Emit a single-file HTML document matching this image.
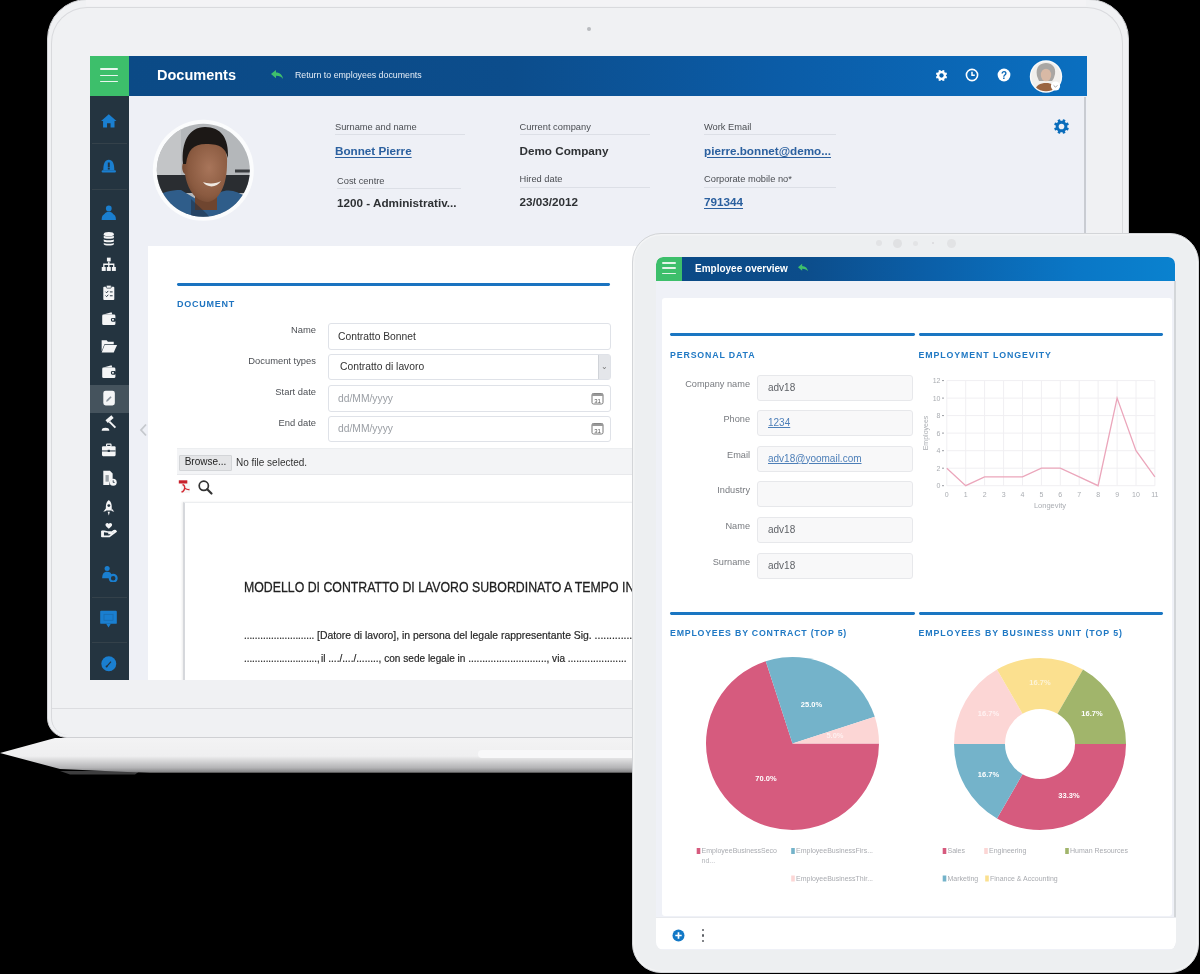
<!DOCTYPE html><html><head><meta charset="utf-8"><style>
*{margin:0;padding:0;box-sizing:border-box}
html,body{width:1200px;height:974px;overflow:hidden;background:#000;font-family:"Liberation Sans",sans-serif}
.a{position:absolute}
.t{white-space:nowrap}
</style></head><body><div class="a" id="wrap" style="left:0;top:0;width:1200px;height:974px;overflow:hidden;background:#000;filter:blur(0.45px)"><svg class="a" style="left:0;top:735px" width="1200" height="42" viewBox="0 0 1200 42">
<defs><linearGradient id="bg1" x1="0" y1="0" x2="0" y2="1">
<stop offset="0" stop-color="#f3f3f4"/><stop offset="0.52" stop-color="#efeff0"/><stop offset="0.58" stop-color="#e3e3e4"/><stop offset="0.85" stop-color="#b4b4b6"/><stop offset="0.96" stop-color="#8c8c8e"/><stop offset="1" stop-color="#404040"/></linearGradient></defs>
<path d="M55 3 L1150 3 L1150 38 L150 38 L60 34 L0 18 Z" fill="url(#bg1)"/><rect x="478" y="15" width="170" height="8" rx="4" fill="#f8f8f9"/><path d="M60 36 L140 36 L135 39.5 L70 39.5 Z" fill="#8a8a8c" opacity="0.45"/>
</svg>
<div class="a" style="left:47px;top:-1px;width:1082px;height:739px;border-radius:40px 40px 20px 20px;background:#f0f1f3;border:1.2px solid #cfd0d3"></div>
<div class="a" style="left:50.5px;top:6.5px;width:1072px;height:728px;border-radius:36px 36px 17px 17px;border:1px solid #d9dadd;border-bottom:none"></div>
<div class="a" style="left:86px;top:0px;width:1000px;height:6px;background:#f3f3f5"></div>
<div class="a" style="left:52px;top:708px;width:1072px;height:1px;background:#dcdde0"></div>
<div class="a" style="left:587px;top:27px;width:4px;height:4px;border-radius:50%;background:#b9bbbf"></div>
<div class="a" style="left:90px;top:56px;width:997px;height:624px;overflow:hidden"><div class="a" style="left:0.00px;top:0.00px;width:997.00px;height:624.00px;background:#eef0f6"></div><div class="a" style="left:39.00px;top:0.00px;width:958.00px;height:40.00px;background:linear-gradient(90deg,#0b4a86 0%,#0c4d8c 40%,#0b5ca7 68%,#0a6fc0 100%)"></div><div class="a" style="left:0.00px;top:0.00px;width:39.00px;height:40.00px;background:#3dbf6b"></div><div class="a" style="left:10.00px;top:12.20px;width:18.00px;height:1.70px;background:#e9f6ee;border-radius:1px"></div><div class="a" style="left:10.00px;top:18.50px;width:18.00px;height:1.70px;background:#e9f6ee;border-radius:1px"></div><div class="a" style="left:10.00px;top:24.70px;width:18.00px;height:1.70px;background:#e9f6ee;border-radius:1px"></div><div class="a t" style="left:67.00px;top:11.67px;font-size:14.5px;line-height:14.5px;font-weight:bold;color:#ffffff;">Documents</div><svg class="a" style="left:180px;top:13px" width="14" height="12" viewBox="0 0 14 12"><path d="M1 5 L6 1 L6 3.5 C10 3.5 12.5 6 13 10 C11.5 7.8 9.5 6.8 6 6.8 L6 9.3 Z" fill="#3fbf6c"/></svg><div class="a t" style="left:205.00px;top:15.02px;font-size:8.8px;line-height:8.8px;font-weight:normal;color:#e6eef7;">Return to employees documents</div><svg class="a" style="left:844.50px;top:12.50px" width="13" height="13" viewBox="0 0 20 20"><rect x="8.4" y="1.2" width="3.2" height="4" rx="0.5" fill="#ffffff" transform="rotate(22.5 10 10)"/><rect x="8.4" y="1.2" width="3.2" height="4" rx="0.5" fill="#ffffff" transform="rotate(67.5 10 10)"/><rect x="8.4" y="1.2" width="3.2" height="4" rx="0.5" fill="#ffffff" transform="rotate(112.5 10 10)"/><rect x="8.4" y="1.2" width="3.2" height="4" rx="0.5" fill="#ffffff" transform="rotate(157.5 10 10)"/><rect x="8.4" y="1.2" width="3.2" height="4" rx="0.5" fill="#ffffff" transform="rotate(202.5 10 10)"/><rect x="8.4" y="1.2" width="3.2" height="4" rx="0.5" fill="#ffffff" transform="rotate(247.5 10 10)"/><rect x="8.4" y="1.2" width="3.2" height="4" rx="0.5" fill="#ffffff" transform="rotate(292.5 10 10)"/><rect x="8.4" y="1.2" width="3.2" height="4" rx="0.5" fill="#ffffff" transform="rotate(337.5 10 10)"/><circle cx="10" cy="10" r="6.8" fill="#ffffff"/><circle cx="10" cy="10" r="3.3" fill="#0b63ad"/></svg><svg class="a" style="left:875px;top:12px" width="14" height="14" viewBox="0 0 14 14"><circle cx="7" cy="7" r="5.6" fill="none" stroke="#fff" stroke-width="1.6"/><path d="M7 3.8 V7.3 H9.8" fill="none" stroke="#fff" stroke-width="1.5"/></svg><svg class="a" style="left:907px;top:12px" width="14" height="14" viewBox="0 0 14 14"><circle cx="7" cy="7" r="6.4" fill="#fff"/><text x="7" y="10.6" font-size="10" font-weight="bold" text-anchor="middle" fill="#0b68b6" font-family="Liberation Sans">?</text></svg><svg class="a" style="left:939px;top:4px" width="34" height="34" viewBox="0 0 34 34">
<defs><clipPath id="avc"><circle cx="17" cy="16.5" r="14.8"/></clipPath></defs>
<circle cx="17" cy="16.5" r="16.2" fill="#fafafa"/>
<g clip-path="url(#avc)"><rect x="0" y="0" width="34" height="34" fill="#f1efec"/>
<path d="M8 16 C6 6 12 3 17 3 C23 3 27 7 26 14 C25 18 24 20 23 21 L10 21 Z" fill="#a9a6a3"/>
<ellipse cx="17" cy="15" rx="5.2" ry="6.3" fill="#d8b9a5"/>
<path d="M5 34 C6 25 11 23 17 23 C23 23 27 25 28 34 Z" fill="#9a6440"/></g>
<circle cx="26.5" cy="26" r="4.6" fill="#fff"/><path d="M24.6 25.3 L26.5 27.2 L28.4 25.3" fill="none" stroke="#999" stroke-width="0.9"/>
</svg><div class="a" style="left:0.00px;top:40.00px;width:39.00px;height:584.00px;background:#243440"></div><div class="a" style="left:2.00px;top:87.00px;width:35.00px;height:1.00px;background:#34414a"></div><div class="a" style="left:2.00px;top:132.50px;width:35.00px;height:1.00px;background:#34414a"></div><div class="a" style="left:2.00px;top:540.50px;width:35.00px;height:1.00px;background:#34414a"></div><div class="a" style="left:2.00px;top:585.50px;width:35.00px;height:1.00px;background:#34414a"></div><div class="a" style="left:0.00px;top:328.50px;width:39.00px;height:28.00px;background:#45535d"></div><svg class="a" style="left:61px;top:62px" width="104" height="104" viewBox="0 0 104 104">
<defs><clipPath id="ph"><circle cx="52.3" cy="52.3" r="46.5"/></clipPath>
<radialGradient id="face" cx="0.6" cy="0.45" r="0.65"><stop offset="0" stop-color="#a8755a"/><stop offset="0.7" stop-color="#8a5a40"/><stop offset="1" stop-color="#6e452f"/></radialGradient></defs>
<circle cx="52.3" cy="52.3" r="50.5" fill="#fbfcfd"/>
<g clip-path="url(#ph)">
<rect x="0" y="0" width="104" height="104" fill="#b4b7ba"/>
<rect x="0" y="0" width="30" height="60" fill="#c3c5c7"/>
<rect x="0" y="57" width="104" height="18" fill="#2a2d31"/>
<rect x="84" y="51.5" width="20" height="3" fill="#3a3d40"/>
<path d="M0 104 L0 84 C6 76 16 72 30 72 L50 84 L62 80 C70 70 84 70 96 80 L104 90 L104 104 Z" fill="#2f5d8a"/>
<path d="M44 70 L66 70 L66 92 L44 92 Z" fill="#6f452f"/>
<path d="M33 36 C33 24 42 22 55 22 C70 22 77 30 76 46 C76 64 70 82 57 84 C44 84 36 70 34 56 C31 55 30 46 33 44 Z" fill="url(#face)"/>
<path d="M32 46 C30 24 38 9 54 9 C70 9 78 20 77 40 C74 30 70 26 55 26 C42 26 37 32 35 46 Z" fill="#1c1816"/>
<path d="M52 64 C56 70 66 70 70 63 C66 66 56 66 52 64 Z" fill="#efe9e2"/>
<path d="M40 81 L56 96 L62 104 L40 104 Z" fill="#1d2c3d" opacity="0.5"/>
</g></svg><div class="a t" style="left:245.00px;top:67.09px;font-size:9.3px;line-height:9.3px;font-weight:normal;color:#4a4d52;">Surname and name</div><div class="a" style="left:245.00px;top:78.00px;width:130.00px;height:1.00px;background:#dcdfe6"></div><div class="a t" style="left:245.00px;top:88.56px;font-size:11.7px;line-height:11.7px;font-weight:bold;color:#2b609f;text-decoration:underline;text-underline-offset:2px;text-decoration-thickness:1px;">Bonnet Pierre</div><div class="a t" style="left:247.00px;top:120.59px;font-size:9.3px;line-height:9.3px;font-weight:normal;color:#4a4d52;">Cost centre</div><div class="a" style="left:247.00px;top:132.00px;width:124.00px;height:1.00px;background:#dcdfe6"></div><div class="a t" style="left:247.00px;top:141.06px;font-size:11.7px;line-height:11.7px;font-weight:bold;color:#2e3134;">1200 - Administrativ...</div><div class="a t" style="left:429.50px;top:67.09px;font-size:9.3px;line-height:9.3px;font-weight:normal;color:#4a4d52;">Current company</div><div class="a" style="left:429.50px;top:78.00px;width:130.00px;height:1.00px;background:#dcdfe6"></div><div class="a t" style="left:429.50px;top:88.56px;font-size:11.7px;line-height:11.7px;font-weight:bold;color:#2e3134;">Demo Company</div><div class="a t" style="left:429.50px;top:119.09px;font-size:9.3px;line-height:9.3px;font-weight:normal;color:#4a4d52;">Hired date</div><div class="a" style="left:429.50px;top:131.00px;width:130.00px;height:1.00px;background:#dcdfe6"></div><div class="a t" style="left:429.50px;top:139.56px;font-size:11.7px;line-height:11.7px;font-weight:bold;color:#2e3134;">23/03/2012</div><div class="a t" style="left:614.00px;top:67.09px;font-size:9.3px;line-height:9.3px;font-weight:normal;color:#4a4d52;">Work Email</div><div class="a" style="left:614.00px;top:78.00px;width:132.00px;height:1.00px;background:#dcdfe6"></div><div class="a t" style="left:614.00px;top:88.56px;font-size:11.7px;line-height:11.7px;font-weight:bold;color:#2b609f;text-decoration:underline;text-underline-offset:2px;text-decoration-thickness:1px;">pierre.bonnet@demo...</div><div class="a t" style="left:614.00px;top:119.09px;font-size:9.3px;line-height:9.3px;font-weight:normal;color:#4a4d52;">Corporate mobile no*</div><div class="a" style="left:614.00px;top:131.00px;width:132.00px;height:1.00px;background:#dcdfe6"></div><div class="a t" style="left:614.00px;top:139.56px;font-size:11.7px;line-height:11.7px;font-weight:bold;color:#2b609f;text-decoration:underline;text-underline-offset:2px;text-decoration-thickness:1px;">791344</div><svg class="a" style="left:962.50px;top:61.50px" width="17" height="17" viewBox="0 0 20 20"><rect x="8.4" y="1.2" width="3.2" height="4" rx="0.5" fill="#0b6dbb" transform="rotate(22.5 10 10)"/><rect x="8.4" y="1.2" width="3.2" height="4" rx="0.5" fill="#0b6dbb" transform="rotate(67.5 10 10)"/><rect x="8.4" y="1.2" width="3.2" height="4" rx="0.5" fill="#0b6dbb" transform="rotate(112.5 10 10)"/><rect x="8.4" y="1.2" width="3.2" height="4" rx="0.5" fill="#0b6dbb" transform="rotate(157.5 10 10)"/><rect x="8.4" y="1.2" width="3.2" height="4" rx="0.5" fill="#0b6dbb" transform="rotate(202.5 10 10)"/><rect x="8.4" y="1.2" width="3.2" height="4" rx="0.5" fill="#0b6dbb" transform="rotate(247.5 10 10)"/><rect x="8.4" y="1.2" width="3.2" height="4" rx="0.5" fill="#0b6dbb" transform="rotate(292.5 10 10)"/><rect x="8.4" y="1.2" width="3.2" height="4" rx="0.5" fill="#0b6dbb" transform="rotate(337.5 10 10)"/><circle cx="10" cy="10" r="6.8" fill="#0b6dbb"/><circle cx="10" cy="10" r="3.3" fill="#eef0f6"/></svg><div class="a" style="left:994.00px;top:41.00px;width:2.00px;height:150.00px;background:#c9ccd2"></div><div class="a" style="left:58.00px;top:190.00px;width:939.00px;height:434.00px;background:#ffffff"></div><div class="a" style="left:87.00px;top:226.80px;width:433.00px;height:2.80px;background:#1a73c0;border-radius:1.4px"></div><div class="a t" style="left:87.00px;top:243.85px;font-size:9px;line-height:9px;font-weight:bold;color:#1f74c0;letter-spacing:0.75px;">DOCUMENT</div><div class="a t" style="right:calc(100% - 226.00px);top:269.01px;font-size:9.4px;line-height:9.4px;font-weight:normal;color:#4d5055;">Name</div><div class="a" style="left:237.50px;top:267.00px;width:283.50px;height:26.50px;background:#fff;border:1px solid #dfe2e8;border-radius:3px"></div><div class="a t" style="left:248.00px;top:275.75px;font-size:10.3px;line-height:10.3px;font-weight:normal;color:#333;">Contratto Bonnet</div><div class="a t" style="right:calc(100% - 226.00px);top:299.51px;font-size:9.4px;line-height:9.4px;font-weight:normal;color:#4d5055;">Document types</div><div class="a" style="left:237.50px;top:297.50px;width:283.50px;height:26.50px;background:#fff;border:1px solid #dfe2e8;border-radius:3px"></div><div class="a t" style="left:250.00px;top:306.25px;font-size:10.3px;line-height:10.3px;font-weight:normal;color:#333;">Contratto di lavoro</div><div class="a" style="left:508.00px;top:298.50px;width:12.00px;height:24.50px;background:#e4e6ea;border-left:1px solid #d0d3d8"></div><div class="a t" style="left:214.00px;width:600px;text-align:center;top:306.70px;font-size:8px;line-height:8px;font-weight:normal;color:#777;">&#8964;</div><div class="a t" style="right:calc(100% - 226.00px);top:331.01px;font-size:9.4px;line-height:9.4px;font-weight:normal;color:#4d5055;">Start date</div><div class="a" style="left:237.50px;top:329.00px;width:283.50px;height:26.50px;background:#fff;border:1px solid #dfe2e8;border-radius:3px"></div><div class="a t" style="left:248.00px;top:337.75px;font-size:10.3px;line-height:10.3px;font-weight:normal;color:#9a9ea4;">dd/MM/yyyy</div><svg class="a" style="left:501px;top:335.5px" width="13" height="13" viewBox="0 0 13 13"><rect x="1" y="1.5" width="11" height="10.5" rx="1.5" fill="#fff" stroke="#777" stroke-width="1"/><rect x="1" y="1.5" width="11" height="2.5" fill="#999"/><text x="6.5" y="10.6" font-size="6" text-anchor="middle" fill="#555" font-family="Liberation Sans">31</text></svg><div class="a t" style="right:calc(100% - 226.00px);top:361.51px;font-size:9.4px;line-height:9.4px;font-weight:normal;color:#4d5055;">End date</div><div class="a" style="left:237.50px;top:359.50px;width:283.50px;height:26.50px;background:#fff;border:1px solid #dfe2e8;border-radius:3px"></div><div class="a t" style="left:248.00px;top:368.25px;font-size:10.3px;line-height:10.3px;font-weight:normal;color:#9a9ea4;">dd/MM/yyyy</div><svg class="a" style="left:501px;top:366.0px" width="13" height="13" viewBox="0 0 13 13"><rect x="1" y="1.5" width="11" height="10.5" rx="1.5" fill="#fff" stroke="#777" stroke-width="1"/><rect x="1" y="1.5" width="11" height="2.5" fill="#999"/><text x="6.5" y="10.6" font-size="6" text-anchor="middle" fill="#555" font-family="Liberation Sans">31</text></svg><div class="a" style="left:87.00px;top:392.00px;width:910.00px;height:27.00px;background:#f3f4f6;border-top:1px solid #eceef0;border-bottom:1px solid #e8e9ec"></div><div class="a" style="left:89.00px;top:398.50px;width:53.00px;height:16.00px;background:#e4e5e7;border:1px solid #d3d5d8;border-radius:1px"></div><div class="a t" style="left:-184.50px;width:600px;text-align:center;top:401.30px;font-size:10px;line-height:10px;font-weight:normal;color:#222;">Browse...</div><div class="a t" style="left:146.00px;top:402.00px;font-size:10px;line-height:10px;font-weight:normal;color:#333;">No file selected.</div><svg class="a" style="left:88px;top:423px" width="14" height="15" viewBox="0 0 14 15"><rect x="3" y="2" width="9" height="12" fill="#f7f7f7"/><rect x="0.8" y="1.3" width="8.5" height="3.2" fill="#c8202b"/><path d="M4.5 5.5 C6 6 7 8 6.5 10 C6 12 4 13.5 3.5 12.5 M6.5 9 C8 10 10 11 11.5 10.5" stroke="#d42a33" stroke-width="1.4" fill="none"/></svg><svg class="a" style="left:107px;top:423px" width="17" height="17" viewBox="0 0 17 17"><circle cx="6.8" cy="6.8" r="4.6" fill="none" stroke="#333" stroke-width="1.7"/><path d="M10.2 10.2 L14.5 14.5" stroke="#333" stroke-width="2.2" stroke-linecap="round"/></svg><div class="a" style="left:93.00px;top:446.00px;width:904.00px;height:180.00px;background:#fff;border-left:2px solid #d6d8dc;border-top:1px solid #eceef0;box-shadow:-1px 0 2px rgba(0,0,0,0.08)"></div><div class="a t" style="left:154.00px;top:523.33px;font-size:15.5px;line-height:15.5px;font-weight:normal;color:#222;transform:scaleX(0.795);transform-origin:left 0;-webkit-text-stroke:0.3px #222;">MODELLO DI CONTRATTO DI LAVORO SUBORDINATO A TEMPO INDETERMINATO</div><div class="a t" style="left:154.00px;top:573.78px;font-size:11.2px;line-height:11.2px;font-weight:normal;color:#262626;transform:scaleX(0.87);transform-origin:left 0;-webkit-text-stroke:0.2px #262626;">..........................</div><div class="a t" style="left:227.00px;top:573.78px;font-size:11.2px;line-height:11.2px;font-weight:normal;color:#262626;transform:scaleX(0.93);transform-origin:left 0;-webkit-text-stroke:0.2px #262626;">[Datore di lavoro], in persona del legale rappresentante Sig. ......................</div><div class="a t" style="left:154.00px;top:596.98px;font-size:11.2px;line-height:11.2px;font-weight:normal;color:#262626;transform:scaleX(0.87);transform-origin:left 0;-webkit-text-stroke:0.2px #262626;">...........................,</div><div class="a t" style="left:230.50px;top:596.98px;font-size:11.2px;line-height:11.2px;font-weight:normal;color:#262626;transform:scaleX(0.9);transform-origin:left 0;-webkit-text-stroke:0.2px #262626;">il ..../..../........, con sede legale in ............................, via .....................</div><div class="a t" style="left:154.00px;top:624.48px;font-size:11.2px;line-height:11.2px;font-weight:normal;color:#262626;transform:scaleX(0.87);transform-origin:left 0;-webkit-text-stroke:0.2px #262626;">partita IVA ............................... [Datore di lavoro]</div><svg class="a" style="left:49px;top:367px" width="9" height="14" viewBox="0 0 9 14"><path d="M7 1.5 L2 7 L7 12.5" fill="none" stroke="#c5c8cd" stroke-width="1.8"/></svg><svg class="a" style="left:10.00px;top:56.20px" width="17.6" height="17.6" viewBox="0 0 16 16"><path d="M8 2 L15 8.2 L13.2 8.2 L13.2 14 L9.6 14 L9.6 10.2 L6.4 10.2 L6.4 14 L2.8 14 L2.8 8.2 L1 8.2 Z" fill="#1a7fd0"/></svg><svg class="a" style="left:10.00px;top:101.20px" width="17.6" height="17.6" viewBox="0 0 16 16"><path d="M3 12 C3 6 4.5 2.5 8 2.5 C11.5 2.5 13 6 13 12 Z" fill="#1a7fd0"/><rect x="1.5" y="12" width="13" height="2.2" rx="1" fill="#1a7fd0"/><rect x="7.1" y="5" width="1.8" height="4.5" fill="#243440"/><rect x="7.1" y="10" width="1.8" height="1.4" fill="#243440"/></svg><svg class="a" style="left:10.00px;top:147.70px" width="17.6" height="17.6" viewBox="0 0 16 16"><circle cx="8" cy="4" r="2.6" fill="#1a7fd0"/><path d="M3 14.5 C3 9 5 7 8 7 C11 7 13 9 13 14.5 Z" fill="#1a7fd0"/><path d="M1.5 14.5 C1.5 11 2.5 9.5 4.5 9 L5 14.5Z M14.5 14.5 C14.5 11 13.5 9.5 11.5 9 L11 14.5Z" fill="#1a7fd0"/></svg><svg class="a" style="left:10.00px;top:173.70px" width="17.6" height="17.6" viewBox="0 0 16 16"><ellipse cx="8" cy="3.8" rx="4.6" ry="1.9" fill="#f4f5f6"/><path d="M3.4 5 V7 C3.4 8.2 12.6 8.2 12.6 7 V5 C12.6 6.3 3.4 6.3 3.4 5Z M3.4 8.3 V10.3 C3.4 11.5 12.6 11.5 12.6 10.3 V8.3 C12.6 9.6 3.4 9.6 3.4 8.3Z M3.4 11.6 V13 C3.4 14.5 12.6 14.5 12.6 13 V11.6 C12.6 12.9 3.4 12.9 3.4 11.6Z" fill="#f4f5f6"/></svg><svg class="a" style="left:10.00px;top:200.20px" width="17.6" height="17.6" viewBox="0 0 16 16"><rect x="6.3" y="1.5" width="3.4" height="3.4" fill="#f4f5f6"/><path d="M8 4.9 V7.5 M3.5 10 V7.5 H12.5 V10 M8 7.5 V10" stroke="#f4f5f6" stroke-width="1.2" fill="none"/><rect x="1.6" y="10" width="3.6" height="3.6" fill="#f4f5f6"/><rect x="6.2" y="10" width="3.6" height="3.6" fill="#f4f5f6"/><rect x="10.8" y="10" width="3.6" height="3.6" fill="#f4f5f6"/></svg><svg class="a" style="left:10.00px;top:228.20px" width="17.6" height="17.6" viewBox="0 0 16 16"><rect x="3" y="2.5" width="10" height="12" rx="0.8" fill="#f4f5f6"/><rect x="5.8" y="1.2" width="4.4" height="2.6" rx="0.6" fill="#f4f5f6" stroke="#243440" stroke-width="0.6"/><path d="M5 7 L6 8 L7.5 6.3 M9 7.2 H11.5 M5 10.5 L6 11.5 L7.5 9.8 M9 10.7 H11.5" stroke="#243440" stroke-width="0.9" fill="none"/></svg><svg class="a" style="left:10.00px;top:254.20px" width="17.6" height="17.6" viewBox="0 0 16 16"><path d="M3 4 L10.5 2 L11.2 4 Z" fill="#f4f5f6"/><rect x="2" y="4.2" width="12" height="9.5" rx="1.2" fill="#f4f5f6"/><rect x="10" y="7.2" width="4.5" height="3.4" rx="1.2" fill="#243440"/><circle cx="11.8" cy="8.9" r="0.9" fill="#f4f5f6"/></svg><svg class="a" style="left:10.00px;top:280.90px" width="17.6" height="17.6" viewBox="0 0 16 16"><path d="M1.5 3 H6 L7.2 4.3 H12.5 V6.5 H4 L1.5 13 Z" fill="#f4f5f6"/><path d="M4.2 7.2 H15.5 L12.5 14 H1.5 Z" fill="#f4f5f6"/></svg><svg class="a" style="left:10.00px;top:306.80px" width="17.6" height="17.6" viewBox="0 0 16 16"><path d="M3 4 L10.5 2 L11.2 4 Z" fill="#f4f5f6"/><rect x="2" y="4.2" width="12" height="9.5" rx="1.2" fill="#f4f5f6"/><rect x="10" y="7.2" width="4.5" height="3.4" rx="1.2" fill="#243440"/><circle cx="11.8" cy="8.9" r="0.9" fill="#f4f5f6"/></svg><svg class="a" style="left:10.00px;top:333.20px" width="17.6" height="17.6" viewBox="0 0 16 16"><rect x="3" y="1.5" width="10.5" height="13.5" rx="2.2" fill="#f4f5f6"/><path d="M6 10 L9.5 6.5 L10.6 7.6 L7.1 11.1 L5.6 11.5 Z" fill="#8a949c"/></svg><svg class="a" style="left:10.00px;top:359.20px" width="17.6" height="17.6" viewBox="0 0 16 16"><rect x="5.2" y="2.2" width="7" height="3.2" transform="rotate(-40 8.7 3.8)" fill="#f4f5f6"/><path d="M8.5 6 L14 11.5" stroke="#f4f5f6" stroke-width="1.8"/><path d="M1.5 14.3 C1.5 12 3 11.5 5 11.5 C7 11.5 8.5 12 8.5 14.3 Z" fill="#f4f5f6"/></svg><svg class="a" style="left:10.00px;top:385.20px" width="17.6" height="17.6" viewBox="0 0 16 16"><rect x="6" y="2.8" width="4" height="2.2" rx="0.5" fill="none" stroke="#f4f5f6" stroke-width="1.1"/><rect x="1.8" y="4.8" width="12.4" height="9" rx="1" fill="#f4f5f6"/><rect x="1.8" y="8.6" width="12.4" height="0.9" fill="#243440"/><rect x="7" y="8" width="2" height="2" fill="#243440"/></svg><svg class="a" style="left:10.00px;top:413.20px" width="17.6" height="17.6" viewBox="0 0 16 16"><path d="M3 1.5 H9 L11.5 4 V9 C9.5 9.5 8.5 11 8.5 14.5 H3 Z" fill="#f4f5f6"/><circle cx="12" cy="12" r="3.2" fill="#f4f5f6"/><path d="M12 10.3 V12.2 H13.3" stroke="#243440" stroke-width="0.8" fill="none"/><rect x="5" y="5.5" width="3" height="6" fill="#9aa2a8"/></svg><svg class="a" style="left:10.00px;top:442.70px" width="17.6" height="17.6" viewBox="0 0 16 16"><path d="M8 1 C10.6 3 11 6 10.5 10.5 H5.5 C5 6 5.4 3 8 1 Z" fill="#f4f5f6"/><circle cx="8" cy="6" r="1.3" fill="#243440"/><path d="M5.5 8.5 L3 11.5 L5.6 11 Z M10.5 8.5 L13 11.5 L10.4 11 Z" fill="#f4f5f6"/><path d="M7 11.5 L8 15 L9 11.5Z" fill="#f4f5f6"/></svg><svg class="a" style="left:10.00px;top:464.90px" width="17.6" height="17.6" viewBox="0 0 16 16"><path d="M8 7 C6 5.5 5 4.8 5 3.5 C5 2.5 5.8 1.8 6.6 1.8 C7.2 1.8 7.7 2.2 8 2.7 C8.3 2.2 8.8 1.8 9.4 1.8 C10.2 1.8 11 2.5 11 3.5 C11 4.8 10 5.5 8 7 Z" fill="#f4f5f6"/><path d="M1.5 9.5 H4 L7 10 H10 C11 10 11 11.3 10 11.3 H7.5 M1.5 14 H8.5 L14.5 9.5 C14 8.5 13 8.5 12 9.3 L10.5 10.3" fill="none" stroke="#f4f5f6" stroke-width="1.5"/><rect x="1" y="9" width="2.6" height="5.5" fill="#f4f5f6"/></svg><svg class="a" style="left:10.00px;top:508.90px" width="17.6" height="17.6" viewBox="0 0 16 16"><circle cx="6.5" cy="3.2" r="2.3" fill="#1a7fd0"/><path d="M2 12 C2 7.5 4 6.2 6.5 6.2 C9 6.2 10 7.3 10.5 9 L8.5 12 Z" fill="#1a7fd0"/><circle cx="12" cy="12" r="3.1" fill="none" stroke="#1a7fd0" stroke-width="2"/></svg><svg class="a" style="left:9.30px;top:553.30px" width="19" height="19" viewBox="0 0 16 16"><rect x="1" y="1.5" width="14" height="11" rx="0.8" fill="#1a7fd0"/><path d="M6 12.5 L8 15.5 L10 12.5 Z" fill="#1a7fd0"/><rect x="4.2" y="4.5" width="7.6" height="5" fill="none" stroke="#1b6db0" stroke-width="0.7"/></svg><svg class="a" style="left:10.00px;top:599.20px" width="17.6" height="17.6" viewBox="0 0 16 16"><circle cx="8" cy="8" r="6.8" fill="#1a7fd0"/><path d="M6 10.5 L10 6" stroke="#243440" stroke-width="1.1"/><circle cx="6" cy="10.5" r="0.9" fill="#243440"/></svg></div>
<div class="a" style="left:632px;top:232.5px;width:567px;height:740.5px;border-radius:29px;background:#edeff1;border:1.5px solid #d3d5d8;box-shadow:inset 0 0 0 1.5px #f3f4f5"></div>
<div class="a" style="left:876px;top:240px;width:6px;height:6px;border-radius:50%;background:#e2e3e5"></div>
<div class="a" style="left:892.5px;top:238.5px;width:9.0px;height:9.0px;border-radius:50%;background:#e0e1e3"></div>
<div class="a" style="left:912.5px;top:240.5px;width:5.0px;height:5.0px;border-radius:50%;background:#e3e4e6"></div>
<div class="a" style="left:932px;top:242px;width:2px;height:2px;border-radius:50%;background:#d8d9db"></div>
<div class="a" style="left:946.5px;top:238.5px;width:9.0px;height:9.0px;border-radius:50%;background:#e2e3e5"></div>
<div class="a" style="left:655.5px;top:256.5px;width:520px;height:693px;overflow:hidden;border-radius:7px 7px 8px 8px"><div class="a" style="left:0.00px;top:0.00px;width:520.00px;height:693.00px;background:#eff1f7"></div><div class="a" style="left:26.00px;top:0.00px;width:493.50px;height:24.00px;background:linear-gradient(90deg,#0b4a86 0%,#0c4d8b 25%,#0b5fa8 50%,#0a77c6 80%,#0a82cf 100%);border-radius:0 7px 0 0"></div><div class="a" style="left:0.00px;top:0.00px;width:26.00px;height:24.00px;background:#3dbf6b;border-radius:7px 0 0 0"></div><div class="a" style="left:6.50px;top:5.60px;width:14.00px;height:1.80px;background:#e3f4e8;border-radius:1px"></div><div class="a" style="left:6.50px;top:10.90px;width:14.00px;height:1.80px;background:#e3f4e8;border-radius:1px"></div><div class="a" style="left:6.50px;top:16.20px;width:14.00px;height:1.80px;background:#e3f4e8;border-radius:1px"></div><div class="a t" style="left:39.50px;top:7.00px;font-size:10px;line-height:10px;font-weight:bold;color:#ffffff;">Employee overview</div><svg class="a" style="left:141.5px;top:6.5px" width="12" height="10" viewBox="0 0 14 12"><path d="M1 5 L6 1 L6 3.5 C10 3.5 12.5 6 13 10 C11.5 7.8 9.5 6.8 6 6.8 L6 9.3 Z" fill="#3fbf6c"/></svg><div class="a" style="left:518.50px;top:24.50px;width:1.50px;height:668.00px;background:#d3d6d9"></div><div class="a" style="left:6.50px;top:41.50px;width:510.00px;height:617.50px;background:#ffffff;border-radius:3px"></div><div class="a" style="left:0.00px;top:660.50px;width:520.00px;height:32.00px;background:#ffffff;border-top:1px solid #e8eaee"></div><svg class="a" style="left:16.0px;top:672.5px" width="13" height="13" viewBox="0 0 13 13"><circle cx="6.5" cy="6.5" r="6" fill="#1278c6"/><path d="M6.5 3.3 V9.7 M3.3 6.5 H9.7" stroke="#fff" stroke-width="1.7"/></svg><div class="a" style="left:46.00px;top:672.20px;width:2.60px;height:2.60px;background:#5b5e63;border-radius:50%"></div><div class="a" style="left:46.00px;top:677.70px;width:2.60px;height:2.60px;background:#5b5e63;border-radius:50%"></div><div class="a" style="left:46.00px;top:683.20px;width:2.60px;height:2.60px;background:#5b5e63;border-radius:50%"></div><div class="a" style="left:14.50px;top:76.60px;width:244.50px;height:2.80px;background:#1a76c2;border-radius:1.4px"></div><div class="a" style="left:263.00px;top:76.60px;width:244.50px;height:2.80px;background:#1a76c2;border-radius:1.4px"></div><div class="a" style="left:14.50px;top:355.60px;width:244.50px;height:2.80px;background:#1a76c2;border-radius:1.4px"></div><div class="a" style="left:263.00px;top:355.60px;width:244.50px;height:2.80px;background:#1a76c2;border-radius:1.4px"></div><div class="a t" style="left:14.50px;top:94.02px;font-size:8.8px;line-height:8.8px;font-weight:bold;color:#2079c4;letter-spacing:0.85px;">PERSONAL DATA</div><div class="a t" style="left:263.00px;top:94.02px;font-size:8.8px;line-height:8.8px;font-weight:bold;color:#2079c4;letter-spacing:0.9px;">EMPLOYMENT LONGEVITY</div><div class="a t" style="left:14.50px;top:372.52px;font-size:8.8px;line-height:8.8px;font-weight:bold;color:#2079c4;letter-spacing:0.78px;">EMPLOYEES BY CONTRACT (TOP 5)</div><div class="a t" style="left:263.00px;top:372.52px;font-size:8.8px;line-height:8.8px;font-weight:bold;color:#2079c4;letter-spacing:0.92px;">EMPLOYEES BY BUSINESS UNIT (TOP 5)</div><div class="a t" style="right:calc(100% - 94.50px);top:123.18px;font-size:9.2px;line-height:9.2px;font-weight:normal;color:#777a7f;">Company name</div><div class="a" style="left:101.80px;top:118.00px;width:155.70px;height:26.00px;background:#f8f8f9;border:1px solid #e7e8eb;border-radius:3px"></div><div class="a t" style="left:112.50px;top:126.00px;font-size:10px;line-height:10px;font-weight:normal;color:#606368;">adv18</div><div class="a t" style="right:calc(100% - 94.50px);top:158.78px;font-size:9.2px;line-height:9.2px;font-weight:normal;color:#777a7f;">Phone</div><div class="a" style="left:101.80px;top:153.60px;width:155.70px;height:26.00px;background:#f8f8f9;border:1px solid #e7e8eb;border-radius:3px"></div><div class="a t" style="left:112.50px;top:161.60px;font-size:10px;line-height:10px;font-weight:normal;color:#4d7fb8;text-decoration:underline;text-decoration-thickness:1px;">1234</div><div class="a t" style="right:calc(100% - 94.50px);top:194.38px;font-size:9.2px;line-height:9.2px;font-weight:normal;color:#777a7f;">Email</div><div class="a" style="left:101.80px;top:189.20px;width:155.70px;height:26.00px;background:#f8f8f9;border:1px solid #e7e8eb;border-radius:3px"></div><div class="a t" style="left:112.50px;top:197.20px;font-size:10px;line-height:10px;font-weight:normal;color:#4d7fb8;text-decoration:underline;text-decoration-thickness:1px;">adv18@yoomail.com</div><div class="a t" style="right:calc(100% - 94.50px);top:229.98px;font-size:9.2px;line-height:9.2px;font-weight:normal;color:#777a7f;">Industry</div><div class="a" style="left:101.80px;top:224.80px;width:155.70px;height:26.00px;background:#f8f8f9;border:1px solid #e7e8eb;border-radius:3px"></div><div class="a t" style="right:calc(100% - 94.50px);top:265.58px;font-size:9.2px;line-height:9.2px;font-weight:normal;color:#777a7f;">Name</div><div class="a" style="left:101.80px;top:260.40px;width:155.70px;height:26.00px;background:#f8f8f9;border:1px solid #e7e8eb;border-radius:3px"></div><div class="a t" style="left:112.50px;top:268.40px;font-size:10px;line-height:10px;font-weight:normal;color:#606368;">adv18</div><div class="a t" style="right:calc(100% - 94.50px);top:301.18px;font-size:9.2px;line-height:9.2px;font-weight:normal;color:#777a7f;">Surname</div><div class="a" style="left:101.80px;top:296.00px;width:155.70px;height:26.00px;background:#f8f8f9;border:1px solid #e7e8eb;border-radius:3px"></div><div class="a t" style="left:112.50px;top:304.00px;font-size:10px;line-height:10px;font-weight:normal;color:#606368;">adv18</div><svg class="a" style="left:259.5px;top:113.5px" width="250" height="145" viewBox="915 370 250 145"><line x1="946.8" y1="380.6" x2="946.8" y2="485.7" stroke="#f0eff2" stroke-width="1"/><text x="946.8" y="497" font-size="7" text-anchor="middle" fill="#aaadb2" font-family="Liberation Sans">0</text><line x1="965.7" y1="380.6" x2="965.7" y2="485.7" stroke="#f0eff2" stroke-width="1"/><text x="965.7" y="497" font-size="7" text-anchor="middle" fill="#aaadb2" font-family="Liberation Sans">1</text><line x1="984.6" y1="380.6" x2="984.6" y2="485.7" stroke="#f0eff2" stroke-width="1"/><text x="984.6" y="497" font-size="7" text-anchor="middle" fill="#aaadb2" font-family="Liberation Sans">2</text><line x1="1003.6" y1="380.6" x2="1003.6" y2="485.7" stroke="#f0eff2" stroke-width="1"/><text x="1003.6" y="497" font-size="7" text-anchor="middle" fill="#aaadb2" font-family="Liberation Sans">3</text><line x1="1022.5" y1="380.6" x2="1022.5" y2="485.7" stroke="#f0eff2" stroke-width="1"/><text x="1022.5" y="497" font-size="7" text-anchor="middle" fill="#aaadb2" font-family="Liberation Sans">4</text><line x1="1041.4" y1="380.6" x2="1041.4" y2="485.7" stroke="#f0eff2" stroke-width="1"/><text x="1041.4" y="497" font-size="7" text-anchor="middle" fill="#aaadb2" font-family="Liberation Sans">5</text><line x1="1060.3" y1="380.6" x2="1060.3" y2="485.7" stroke="#f0eff2" stroke-width="1"/><text x="1060.3" y="497" font-size="7" text-anchor="middle" fill="#aaadb2" font-family="Liberation Sans">6</text><line x1="1079.2" y1="380.6" x2="1079.2" y2="485.7" stroke="#f0eff2" stroke-width="1"/><text x="1079.2" y="497" font-size="7" text-anchor="middle" fill="#aaadb2" font-family="Liberation Sans">7</text><line x1="1098.1" y1="380.6" x2="1098.1" y2="485.7" stroke="#f0eff2" stroke-width="1"/><text x="1098.1" y="497" font-size="7" text-anchor="middle" fill="#aaadb2" font-family="Liberation Sans">8</text><line x1="1117.1" y1="380.6" x2="1117.1" y2="485.7" stroke="#f0eff2" stroke-width="1"/><text x="1117.1" y="497" font-size="7" text-anchor="middle" fill="#aaadb2" font-family="Liberation Sans">9</text><line x1="1136.0" y1="380.6" x2="1136.0" y2="485.7" stroke="#f0eff2" stroke-width="1"/><text x="1136.0" y="497" font-size="7" text-anchor="middle" fill="#aaadb2" font-family="Liberation Sans">10</text><line x1="1154.9" y1="380.6" x2="1154.9" y2="485.7" stroke="#f0eff2" stroke-width="1"/><text x="1154.9" y="497" font-size="7" text-anchor="middle" fill="#aaadb2" font-family="Liberation Sans">11</text><line x1="946.8" y1="485.7" x2="1154.9" y2="485.7" stroke="#f0eff2" stroke-width="1"/><text x="940.5" y="488.2" font-size="7" text-anchor="end" fill="#aaadb2" font-family="Liberation Sans">0</text><line x1="942" y1="485.7" x2="944" y2="485.7" stroke="#9a9da3" stroke-width="1"/><line x1="946.8" y1="468.2" x2="1154.9" y2="468.2" stroke="#f0eff2" stroke-width="1"/><text x="940.5" y="470.7" font-size="7" text-anchor="end" fill="#aaadb2" font-family="Liberation Sans">2</text><line x1="942" y1="468.2" x2="944" y2="468.2" stroke="#9a9da3" stroke-width="1"/><line x1="946.8" y1="450.7" x2="1154.9" y2="450.7" stroke="#f0eff2" stroke-width="1"/><text x="940.5" y="453.2" font-size="7" text-anchor="end" fill="#aaadb2" font-family="Liberation Sans">4</text><line x1="942" y1="450.7" x2="944" y2="450.7" stroke="#9a9da3" stroke-width="1"/><line x1="946.8" y1="433.1" x2="1154.9" y2="433.1" stroke="#f0eff2" stroke-width="1"/><text x="940.5" y="435.6" font-size="7" text-anchor="end" fill="#aaadb2" font-family="Liberation Sans">6</text><line x1="942" y1="433.1" x2="944" y2="433.1" stroke="#9a9da3" stroke-width="1"/><line x1="946.8" y1="415.6" x2="1154.9" y2="415.6" stroke="#f0eff2" stroke-width="1"/><text x="940.5" y="418.1" font-size="7" text-anchor="end" fill="#aaadb2" font-family="Liberation Sans">8</text><line x1="942" y1="415.6" x2="944" y2="415.6" stroke="#9a9da3" stroke-width="1"/><line x1="946.8" y1="398.1" x2="1154.9" y2="398.1" stroke="#f0eff2" stroke-width="1"/><text x="940.5" y="400.6" font-size="7" text-anchor="end" fill="#aaadb2" font-family="Liberation Sans">10</text><line x1="942" y1="398.1" x2="944" y2="398.1" stroke="#9a9da3" stroke-width="1"/><line x1="946.8" y1="380.6" x2="1154.9" y2="380.6" stroke="#f0eff2" stroke-width="1"/><text x="940.5" y="383.1" font-size="7" text-anchor="end" fill="#aaadb2" font-family="Liberation Sans">12</text><line x1="942" y1="380.6" x2="944" y2="380.6" stroke="#9a9da3" stroke-width="1"/><polyline points="946.8,468.2 965.7,485.7 984.6,476.9 1003.6,476.9 1022.5,476.9 1041.4,468.2 1060.3,468.2 1079.2,476.9 1098.1,485.7 1117.1,398.1 1136.0,450.7 1154.9,476.9" fill="none" stroke="#eba6bb" stroke-width="1.3"/><text x="1050" y="507.5" font-size="7.5" text-anchor="middle" fill="#aaadb2" font-family="Liberation Sans">Longevity</text><text x="0" y="0" font-size="7" text-anchor="middle" fill="#aaadb2" font-family="Liberation Sans" transform="translate(927.5 433) rotate(-90)">Employees</text></svg><svg class="a" style="left:4.5px;top:383.5px" width="510" height="260" viewBox="660 640 510 260"><path d="M792.50,743.50 L879.00,743.50 A86.5,86.5 0 1 1 765.77,661.23 Z" fill="#d65b7e"/><path d="M792.50,743.50 L765.77,661.23 A86.5,86.5 0 0 1 874.77,716.77 Z" fill="#74b3ca"/><path d="M792.50,743.50 L874.77,716.77 A86.5,86.5 0 0 1 879.00,743.50 Z" fill="#fcd6d5"/><path d="M1126.00,744.00 A86,86 0 0 1 997.00,818.48 L1022.50,774.31 A35,35 0 0 0 1075.00,744.00 Z" fill="#d65b7e"/><path d="M997.00,818.48 A86,86 0 0 1 954.00,744.00 L1005.00,744.00 A35,35 0 0 0 1022.50,774.31 Z" fill="#74b3ca"/><path d="M954.00,744.00 A86,86 0 0 1 997.00,669.52 L1022.50,713.69 A35,35 0 0 0 1005.00,744.00 Z" fill="#fcd6d5"/><path d="M997.00,669.52 A86,86 0 0 1 1083.00,669.52 L1057.50,713.69 A35,35 0 0 0 1022.50,713.69 Z" fill="#fbe08f"/><path d="M1083.00,669.52 A86,86 0 0 1 1126.00,744.00 L1075.00,744.00 A35,35 0 0 0 1057.50,713.69 Z" fill="#a1b56b"/><text x="811.5" y="707.1" font-size="7.5" font-weight="bold" text-anchor="middle" fill="#fff" font-family="Liberation Sans">25.0%</text><text x="766" y="780.6" font-size="7.5" font-weight="bold" text-anchor="middle" fill="#fff" font-family="Liberation Sans">70.0%</text><text x="835" y="738.1" font-size="7.5" font-weight="bold" text-anchor="middle" fill="#fdf0f0" font-family="Liberation Sans">5.0%</text><text x="1040" y="685.1" font-size="7.5" font-weight="bold" text-anchor="middle" fill="#fdf3d6" font-family="Liberation Sans">16.7%</text><text x="988.5" y="716.1" font-size="7.5" font-weight="bold" text-anchor="middle" fill="#fff2f2" font-family="Liberation Sans">16.7%</text><text x="1092" y="715.6" font-size="7.5" font-weight="bold" text-anchor="middle" fill="#fff" font-family="Liberation Sans">16.7%</text><text x="988.5" y="776.6" font-size="7.5" font-weight="bold" text-anchor="middle" fill="#fff" font-family="Liberation Sans">16.7%</text><text x="1069" y="798.1" font-size="7.5" font-weight="bold" text-anchor="middle" fill="#fff" font-family="Liberation Sans">33.3%</text><rect x="696.7" y="848" width="3.6" height="6" fill="#d65b7e"/><text x="701.5" y="853.4" font-size="7" fill="#a9abb0" font-family="Liberation Sans">EmployeeBusinessSeco</text><text x="701.5" y="862.5" font-size="7" fill="#b3b5ba" font-family="Liberation Sans">nd...</text><rect x="791.2" y="848" width="3.6" height="6" fill="#74b3ca"/><text x="796" y="853.4" font-size="7" fill="#a9abb0" font-family="Liberation Sans">EmployeeBusinessFirs...</text><rect x="791.2" y="875.5" width="3.6" height="6" fill="#fcd6d5"/><text x="796" y="880.9" font-size="7" fill="#a9abb0" font-family="Liberation Sans">EmployeeBusinessThir...</text><rect x="942.7" y="848" width="3.6" height="6" fill="#d65b7e"/><text x="947.5" y="853.4" font-size="7" fill="#a9abb0" font-family="Liberation Sans">Sales</text><rect x="984.2" y="848" width="3.6" height="6" fill="#fcd6d5"/><text x="989" y="853.4" font-size="7" fill="#a9abb0" font-family="Liberation Sans">Engineering</text><rect x="1065.2" y="848" width="3.6" height="6" fill="#a1b56b"/><text x="1070" y="853.4" font-size="7" fill="#a9abb0" font-family="Liberation Sans">Human Resources</text><rect x="942.7" y="875.5" width="3.6" height="6" fill="#74b3ca"/><text x="947.5" y="880.9" font-size="7" fill="#a9abb0" font-family="Liberation Sans">Marketing</text><rect x="985.2" y="875.5" width="3.6" height="6" fill="#fbe08f"/><text x="990" y="880.9" font-size="7" fill="#a9abb0" font-family="Liberation Sans">Finance &amp; Accounting</text></svg></div></div></body></html>
